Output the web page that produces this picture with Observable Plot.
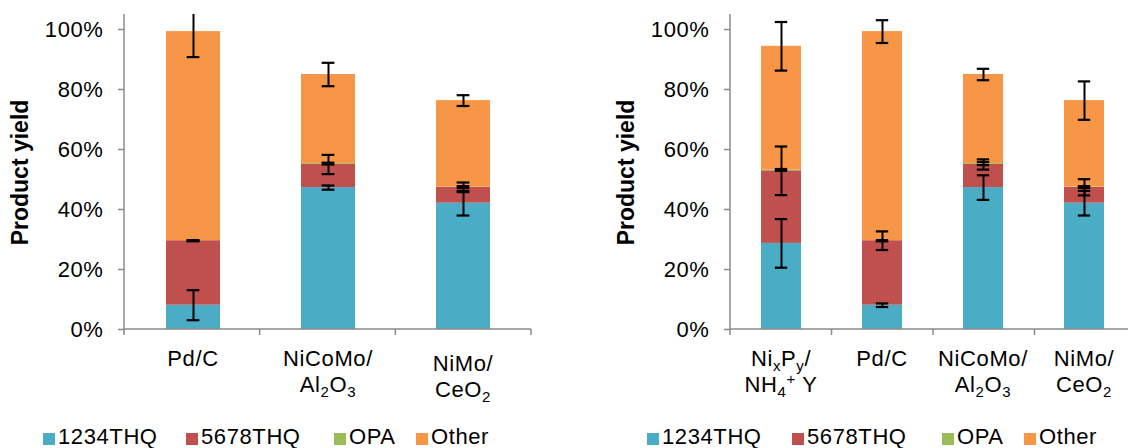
<!DOCTYPE html>
<html>
<head>
<meta charset="utf-8">
<script src="https://cdn.jsdelivr.net/npm/d3@7"></script>
<script src="https://cdn.jsdelivr.net/npm/@observablehq/plot@0.6"></script>
<style>
  html, body { margin: 0; padding: 0; background: #fff; overflow: hidden; }
  #wrap { position: relative; width: 1128px; height: 448px; overflow: hidden;
          font-family: "Liberation Sans", Arial, Helvetica, sans-serif; }
  .panel { position: absolute; top: 0; }
  .panel svg { max-width: none !important; }
  .panel svg text { letter-spacing: 0.6px; }
  .lg-sq { position: absolute; width: 12px; height: 12px; }
  .lg-tx { position: absolute; font-size: 22px; line-height: 22px; color: #000; white-space: nowrap; letter-spacing: 0.6px; }
</style>
</head>
<body>
<div id="wrap"></div>
<script>
// ---------------- data ----------------
const seriesNames = ["1234THQ", "5678THQ", "OPA", "Other"];
const seriesColors = ["#4BACC6", "#C0504D", "#9BBB59", "#F79646"];
const yTicks = [0, 20, 40, 60, 80, 100];
const yTitle = "Product yield";

// left chart
const leftCategories = ["Pd/C", "NiCoMo/\nAl_2O_3", "NiMo/\nCeO_2"];
const left1234THQ = [8.1, 47.3, 42.1];
const left5678THQ = [21.5, 7.7, 5.3];
const leftOPA     = [0.0, 0.3, 0.1];
const leftOther   = [69.7, 29.7, 28.8];
const leftErr1234THQ = [5.0, 0.7, 4.1];
const leftErr5678THQ = [0.2, 3.2, 1.6];
const leftErrOPA     = [0.0, 0.3, 0.3];
const leftErrOther   = [8.5, 3.9, 1.8];

// right chart
const rightCategories = ["Ni_xP_y/\nNH_4^+ Y", "Pd/C", "NiCoMo/\nAl_2O_3", "NiMo/\nCeO_2"];
const right1234THQ = [28.7, 8.1, 47.3, 42.1];
const right5678THQ = [24.2, 21.5, 7.7, 5.3];
const rightOPA     = [0.3, 0.0, 0.3, 0.1];
const rightOther   = [41.2, 69.7, 29.7, 28.8];
const rightErr1234THQ = [8.1, 0.6, 4.1, 4.1];
const rightErr5678THQ = [8.1, 3.1, 1.7, 2.7];
const rightErrOPA     = [0.3, 0.2, 0.5, 0.3];
const rightErrOther   = [8.1, 3.8, 1.9, 6.4];

// ---------------- drawing ----------------
const FONT = '"Liberation Sans", Arial, Helvetica, sans-serif';
const AXIS = "#8a8a8a";
const wrap = document.getElementById("wrap");

function buildRows(cats, vals, errs) {
  const rows = [];
  cats.forEach((c, i) => {
    let cum = 0;
    seriesNames.forEach((s, k) => {
      const v = vals[k][i];
      cum += v;
      rows.push({cat: c, series: s, value: v, top: cum, err: errs[k][i]});
    });
  });
  return rows;
}

function addRich(textSel, str) {
  // "_" -> next char subscript, "^" -> next char superscript
  let cur = 0, i = 0, buf = "";
  const flush = () => {
    if (buf) {
      textSel.append("tspan").attr("dy", 0 - cur).text(buf);
      cur = 0; buf = "";
    }
  };
  while (i < str.length) {
    const ch = str[i];
    if (ch === "_" || ch === "^") {
      flush();
      const target = ch === "_" ? 5 : -8;
      textSel.append("tspan").attr("dy", target - cur).attr("font-size", 15).text(str[i + 1]);
      cur = target;
      i += 2;
    } else {
      buf += ch;
      i += 1;
    }
  }
  flush();
}

function panel({left, width, cats, vals, errs, marginLeft, marginRight, labelShift, legendX}) {
  const height = 415, marginTop = 14, marginBottom = 86;
  const rows = buildRows(cats, vals, errs);
  const n = cats.length;
  const bw = (width - marginLeft - marginRight) / n * 0.4;
  const capInset = (bw - 13) / 2;

  const plot = Plot.plot({
    width, height, marginLeft, marginRight, marginTop, marginBottom,
    style: {fontFamily: FONT, fontSize: "22px", color: "#000", background: "transparent",
            overflow: "visible", maxWidth: "none"},
    x: {domain: cats, paddingInner: 0.6, paddingOuter: 0.3, axis: null},
    y: {domain: [0, 105]},
    color: {domain: seriesNames, range: seriesColors},
    marks: [
      Plot.barY(rows, Plot.stackY({x: "cat", y: "value", fill: "series"})),
      Plot.axisY({ticks: yTicks, tickFormat: d => d + "%", tickSize: 6, tickPadding: 15,
                  stroke: AXIS, strokeWidth: 1.5, color: "#000", label: null}),
      Plot.ruleX(rows, {x: "cat", y1: d => d.top - d.err, y2: d => d.top + d.err,
                        stroke: "#000", strokeWidth: 2, clip: true}),
      Plot.tickY(rows, {x: "cat", y: d => d.top - d.err, stroke: "#000", strokeWidth: 2.2,
                        insetLeft: capInset, insetRight: capInset, clip: true}),
      Plot.tickY(rows, {x: "cat", y: d => d.top + d.err, stroke: "#000", strokeWidth: 2.2,
                        insetLeft: capInset, insetRight: capInset, clip: true})
    ]
  });

  const div = document.createElement("div");
  div.className = "panel";
  div.style.left = left + "px";
  div.style.width = width + "px";
  div.appendChild(plot);
  wrap.appendChild(div);

  const svg = d3.select(plot);
  const xs = plot.scale("x");
  const ys = plot.scale("y");
  const x0 = xs.range[0], x1 = xs.range[1];
  const step = (x1 - x0) / n;
  const band = xs.bandwidth ?? step * 0.4;
  const y0 = ys.apply(0), yTop = ys.apply(105);

  const g = svg.append("g").attr("stroke", AXIS).attr("stroke-width", 1.5);
  g.append("line").attr("x1", x0).attr("x2", x0).attr("y1", yTop).attr("y2", y0 + 6);
  g.append("line").attr("x1", x0).attr("x2", x1).attr("y1", y0).attr("y2", y0);
  for (let i = 1; i <= n; i++) {
    g.append("line").attr("x1", x0 + i * step).attr("x2", x0 + i * step).attr("y1", y0).attr("y2", y0 + 6);
  }

  // category labels (with sub/superscripts)
  cats.forEach(c => {
    const cx = xs.apply(c) + band / 2;
    const lines = c.split("\n");
    const shift = labelShift[c] || 0;
    lines.forEach((ln, j) => {
      const t = svg.append("text")
        .attr("x", cx).attr("y", 366 + shift + j * 26)
        .attr("text-anchor", "middle")
        .attr("font-family", FONT).attr("font-size", 22).attr("fill", "#000");
      addRich(t, ln);
    });
  });

  // y title
  svg.append("text")
    .attr("transform", `translate(${marginLeft - 96},172.5) rotate(-90)`)
    .attr("text-anchor", "middle")
    .attr("font-family", FONT).attr("font-size", 23).attr("font-weight", "bold").attr("fill", "#000")
    .style("letter-spacing", "0px")
    .text(yTitle);

  // legend (below the svg)
  seriesNames.forEach((s, k) => {
    const sq = document.createElement("div");
    sq.className = "lg-sq";
    sq.style.left = legendX[k] + "px";
    sq.style.top = "433px";
    sq.style.background = seriesColors[k];
    wrap.appendChild(sq);
    const tx = document.createElement("div");
    tx.className = "lg-tx";
    tx.style.left = (legendX[k] + 15) + "px";
    tx.style.top = "426px";
    tx.textContent = s;
    wrap.appendChild(tx);
  });
}

panel({
  left: 0, width: 560, cats: leftCategories,
  vals: [left1234THQ, left5678THQ, leftOPA, leftOther],
  errs: [leftErr1234THQ, leftErr5678THQ, leftErrOPA, leftErrOther],
  marginLeft: 124, marginRight: 29,
  labelShift: {"NiMo/\nCeO_2": 5},
  legendX: [43, 186, 334, 416]
});

panel({
  left: 560, width: 576, cats: rightCategories,
  vals: [right1234THQ, right5678THQ, rightOPA, rightOther],
  errs: [rightErr1234THQ, rightErr5678THQ, rightErrOPA, rightErrOther],
  marginLeft: 170, marginRight: 0,
  labelShift: {},
  legendX: [647, 792, 942, 1024]
});
</script>
</body>
</html>
